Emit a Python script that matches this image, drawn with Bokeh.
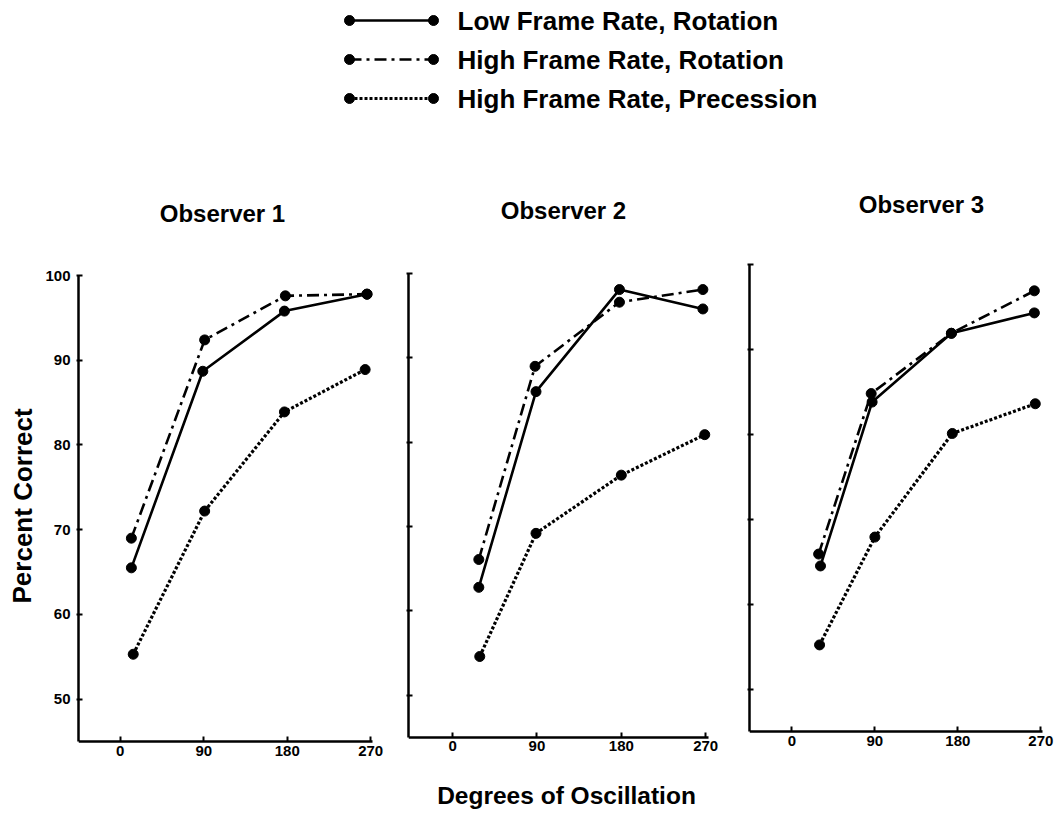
from bokeh.plotting import figure
from bokeh.layouts import row, column
from bokeh.models import Range1d, FixedTicker
from bokeh.core.properties import value
from bokeh.embed import file_html
from bokeh.resources import INLINE

FONT = "Liberation Sans"

# ---------------- data ----------------
series_names = ["Low Frame Rate, Rotation",
                "High Frame Rate, Rotation",
                "High Frame Rate, Precession"]
observers = ["Observer 1", "Observer 2", "Observer 3"]
x_ticks = [0, 90, 180, 270]
y_ticks = [50, 60, 70, 80, 90, 100]

# Observer 1
obs1_low_x = [12, 89, 177, 266]
obs1_low_y = [65.5, 88.7, 95.8, 97.8]
obs1_hrot_x = [12, 91, 178, 266]
obs1_hrot_y = [69.0, 92.4, 97.6, 97.8]
obs1_prec_x = [14, 91, 177, 264]
obs1_prec_y = [55.3, 72.2, 83.9, 88.9]

# Observer 2
obs2_low_x = [28, 89, 178, 267]
obs2_low_y = [62.8, 86.0, 98.1, 95.8]
obs2_hrot_x = [28, 88, 178, 267]
obs2_hrot_y = [66.1, 89.0, 96.6, 98.1]
obs2_prec_x = [29, 89, 180, 269]
obs2_prec_y = [54.6, 69.2, 76.1, 80.9]

# Observer 3
obs3_low_x = [31, 87, 173, 263]
obs3_low_y = [64.5, 83.8, 91.9, 94.3]
obs3_hrot_x = [29, 86, 173, 263]
obs3_hrot_y = [65.9, 84.8, 91.9, 96.9]
obs3_prec_x = [30, 90, 174, 264]
obs3_prec_y = [55.2, 67.9, 80.1, 83.6]

# ---------------- styles ----------------
STYLES = [
    dict(line_dash="solid", line_width=2.6),
    dict(line_dash="12 5 3 5", line_width=2.6),
    dict(line_dash="3 2", line_width=3.2),
]
MARKER_SIZE = 10


def txt(fig, xs, ys, texts, size, align="center", baseline="middle", angle=0):
    fig.text(x=xs, y=ys, text=texts, text_font=value(FONT), text_font_style="bold",
             text_font_size=size, text_align=align, text_baseline=baseline,
             text_color="black", angle=angle)


def blank(width, height, xr, yr):
    f = figure(width=width, height=height, x_range=Range1d(*xr), y_range=Range1d(*yr),
               x_axis_type=None, y_axis_type=None, output_backend="svg",
               toolbar_location=None, min_border=0, title=None)
    f.grid.visible = False
    f.outline_line_color = None
    return f


def panel(width, xr, x_axis_end, yr, left, right, series, show_labels):
    p = figure(width=width, height=525, x_range=Range1d(*xr), y_range=Range1d(*yr),
               output_backend="svg", toolbar_location=None, title=None,
               min_border_left=left, min_border_right=right,
               min_border_top=14, min_border_bottom=10)
    p.grid.visible = False
    p.outline_line_color = None
    p.xaxis.ticker = FixedTicker(ticks=x_ticks)
    p.yaxis.ticker = FixedTicker(ticks=y_ticks)
    for ax in (p.xaxis[0], p.yaxis[0]):
        ax.axis_line_width = 2.5
        ax.axis_line_color = "black"
        ax.major_tick_line_width = 2
        ax.major_tick_line_color = "black"
        ax.minor_tick_line_color = None
        ax.major_label_text_font = FONT
        ax.major_label_text_font_style = "bold"
        ax.major_label_text_font_size = "15px"
        ax.major_label_text_color = "black"
    p.yaxis.bounds = (45, 100)
    p.xaxis.bounds = (xr[0], x_axis_end)
    p.xaxis.fixed_location = 45
    p.xaxis.major_tick_in = 5
    p.xaxis.major_tick_out = 0
    p.xaxis.major_label_standoff = 4
    p.yaxis.major_tick_in = 4
    p.yaxis.major_tick_out = 2
    p.yaxis.major_label_standoff = 6
    if not show_labels:
        p.yaxis.major_label_overrides = {t: "" for t in y_ticks}
        p.yaxis.major_label_text_color = None
    for (xs, ys), st in zip(series, STYLES):
        p.line(xs, ys, line_color="black", **st)
        p.scatter(xs, ys, size=MARKER_SIZE, color="black")
    return p


# ---------------- top: legend + panel titles ----------------
top = blank(1064, 250, (0, 1064), (250, 0))
legend_y = [20, 59, 98]
for yy, st in zip(legend_y, STYLES):
    top.line([349, 433], [yy, yy], line_color="black", **st)
    top.scatter([349, 433], [yy, yy], size=MARKER_SIZE, color="black")
txt(top, [457] * 3, legend_y, series_names, "26px", align="left")
txt(top, [222, 563, 921], [213, 210, 204], observers, "24px")

# ---------------- y label ----------------
ylab = blank(42, 525, (0, 42), (775, 250))
txt(ylab, [22], [503], ["Percent Correct"], "26px", angle=1.5707963)

# ---------------- panels ----------------
# every frame runs from page y 264 to 765; each range puts 100 and 45 where that panel has them
p1 = panel(348, (-45, 288.1), 272, (42.17, 101.3), 35, 3,
           [(obs1_low_x, obs1_low_y), (obs1_hrot_x, obs1_hrot_y), (obs1_prec_x, obs1_prec_y)], True)
p2 = panel(338, (-47, 289), 273, (41.68, 101.07), 18, 5,
           [(obs2_low_x, obs2_low_y), (obs2_hrot_x, obs2_hrot_y), (obs2_prec_x, obs2_prec_y)], False)
p3 = panel(336, (-46, 288.1), 271.8, (41.0, 100), 21, 7,
           [(obs3_low_x, obs3_low_y), (obs3_hrot_x, obs3_hrot_y), (obs3_prec_x, obs3_prec_y)], False)

# ---------------- bottom: x label ----------------
bottom = blank(1064, 38, (0, 1064), (813, 775))
txt(bottom, [566], [795], ["Degrees of Oscillation"], "24.5px")

layout = column(top, row(ylab, p1, p2, p3), bottom)
open("out.html", "w").write(file_html(layout, INLINE))
